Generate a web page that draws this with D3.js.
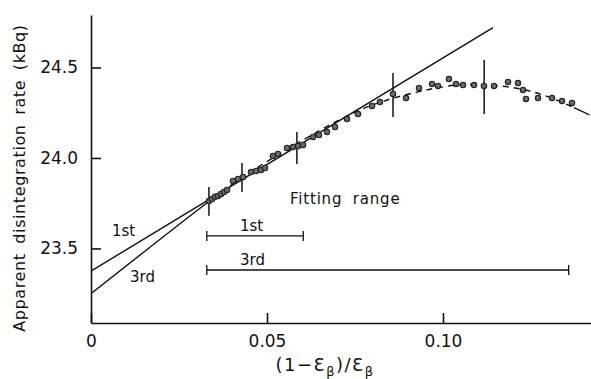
<!DOCTYPE html>
<html>
<head>
<meta charset="utf-8">
<script src="https://cdn.jsdelivr.net/npm/d3@7"></script>
<style>
  html, body { margin: 0; padding: 0; background: #fff; }
  svg { display: block; font-family: "DejaVu Sans", sans-serif; }
</style>
</head>
<body>
<svg id="chart" width="591" height="379"></svg>
<script>
// ---------- data ----------
const pointX = [0.03352, 0.03438, 0.03523, 0.03608, 0.03693, 0.03778, 0.03864,
  0.04034, 0.04176, 0.04318, 0.04545, 0.04688, 0.04830, 0.04943,
  0.05170, 0.05312, 0.05568, 0.05739, 0.05881, 0.06023,
  0.06307, 0.06477, 0.06705, 0.06932, 0.07273, 0.07585, 0.07983, 0.08210,
  0.08580, 0.08949, 0.09318, 0.09688, 0.09858, 0.10170, 0.10369, 0.10568,
  0.10881, 0.11165, 0.11449, 0.11847, 0.12131, 0.12273, 0.12358, 0.12699,
  0.13097, 0.13381, 0.13665];
const pointY = [23.762, 23.773, 23.785, 23.790, 23.801, 23.812, 23.823,
  23.873, 23.884, 23.895, 23.923, 23.928, 23.934, 23.945,
  24.011, 24.022, 24.055, 24.061, 24.066, 24.072,
  24.116, 24.127, 24.144, 24.171, 24.215, 24.243, 24.287, 24.309,
  24.354, 24.331, 24.387, 24.409, 24.398, 24.436, 24.409, 24.403,
  24.403, 24.398, 24.398, 24.420, 24.414, 24.376, 24.326, 24.331,
  24.331, 24.315, 24.304];

const errX = [0.0335, 0.0429, 0.0585, 0.0858, 0.1117];
const errY = [23.760, 23.892, 24.055, 24.348, 24.392];
const errHalf = [0.080, 0.080, 0.088, 0.122, 0.149];

// first-order fit (straight line) end points
const fit1X = [0, 0.1142];
const fit1Y = [23.375, 24.72];
// third-order fit, points
const fit3X = [0, 0.0331, 0.05, 0.07, 0.0858, 0.10, 0.11, 0.125, 0.1416];
const fit3Y = [23.25, 23.754, 23.98, 24.205, 24.33, 24.393, 24.405, 24.368, 24.238];

// fitting ranges
const rangeNames = ["1st", "3rd"];
const rangeStart = [0.0329, 0.0329];
const rangeEnd = [0.0603, 0.1357];
const rangeLevel = [23.569, 23.381];

const xTicks = [0, 0.05, 0.10];
const xTickLabels = ["0", "0.05", "0.10"];
const yTicks = [23.5, 24.0, 24.5];
const yTickLabels = ["23.5", "24.0", "24.5"];

// ---------- drawing ----------
const svg = d3.select("#chart");
const x = d3.scaleLinear().domain([0, 0.14205]).range([91, 591]);
const y = d3.scaleLinear().domain([23.088, 24.79]).range([323, 15]);

const ink = "#111";

// axes
const yAxis = d3.axisLeft(y).tickValues(yTicks)
  .tickFormat((d, i) => yTickLabels[i]).tickSize(-10).tickSizeOuter(0).tickPadding(13);
const xAxis = d3.axisBottom(x).tickValues(xTicks)
  .tickFormat((d, i) => xTickLabels[i]).tickSize(-10).tickSizeOuter(0).tickPadding(12);

const gy = svg.append("g").attr("transform", `translate(${x(0)},0)`).call(yAxis);
const gx = svg.append("g").attr("transform", `translate(0,${y(23.088)})`).call(xAxis);
[gx, gy].forEach(g => {
  g.select(".domain").attr("stroke", ink).attr("stroke-width", 1.6);
  g.selectAll(".tick line").attr("stroke", ink).attr("stroke-width", 1.6);
  g.selectAll(".tick text").attr("fill", ink).style("font-size", "17px")
    .style("font-family", "'DejaVu Sans', sans-serif");
});

// clip regions for the third-order curve (solid outside data, dashed across it)
const defs = svg.append("defs");
const dashStart = 0.0335, dashEnd = 0.1372;
const solidClip = defs.append("clipPath").attr("id", "solidClip");
solidClip.append("rect").attr("x", x(0)).attr("y", 0)
  .attr("width", x(dashStart) - x(0)).attr("height", 379);
solidClip.append("rect").attr("x", x(dashEnd)).attr("y", 0)
  .attr("width", x(0.14205) - x(dashEnd) + 5).attr("height", 379);
defs.append("clipPath").attr("id", "dashClip").append("rect")
  .attr("x", x(dashStart)).attr("y", 0)
  .attr("width", x(dashEnd) - x(dashStart)).attr("height", 379);

const line = d3.line().x(d => x(d[0])).y(d => y(d[1]));
const curve3 = d3.line().x(d => x(d[0])).y(d => y(d[1])).curve(d3.curveNatural);
const fit3 = fit3X.map((v, i) => [v, fit3Y[i]]);

svg.append("path").datum(fit3).attr("d", curve3)
  .attr("fill", "none").attr("stroke", ink).attr("stroke-width", 1.4)
  .attr("clip-path", "url(#solidClip)");
svg.append("path").datum(fit3).attr("d", curve3)
  .attr("fill", "none").attr("stroke", ink).attr("stroke-width", 1.4)
  .attr("stroke-dasharray", "6,5")
  .attr("clip-path", "url(#dashClip)");

svg.append("path").datum(fit1X.map((v, i) => [v, fit1Y[i]])).attr("d", line)
  .attr("fill", "none").attr("stroke", ink).attr("stroke-width", 1.4);

// error bars
svg.append("g").selectAll("line").data(errX).join("line")
  .attr("x1", d => x(d)).attr("x2", d => x(d))
  .attr("y1", (d, i) => y(errY[i] + errHalf[i]))
  .attr("y2", (d, i) => y(errY[i] - errHalf[i]))
  .attr("stroke", ink).attr("stroke-width", 1.5);

// data points
svg.append("g").selectAll("circle").data(pointX).join("circle")
  .attr("cx", d => x(d)).attr("cy", (d, i) => y(pointY[i]))
  .attr("r", 2.7).attr("fill", "#6a6a6a").attr("stroke", "#222").attr("stroke-width", 1.1);

// fitting range bars
const rg = svg.append("g");
rangeNames.forEach((name, i) => {
  const yy = y(rangeLevel[i]);
  rg.append("line").attr("x1", x(rangeStart[i])).attr("x2", x(rangeEnd[i]))
    .attr("y1", yy).attr("y2", yy).attr("stroke", ink).attr("stroke-width", 1.3);
  [rangeStart[i], rangeEnd[i]].forEach(v => {
    rg.append("line").attr("x1", x(v)).attr("x2", x(v))
      .attr("y1", yy - 5).attr("y2", yy + 5).attr("stroke", ink).attr("stroke-width", 1.3);
  });
  rg.append("text").attr("x", x(0.04233)).attr("y", yy - 5)
    .attr("fill", ink).style("font-size", "15px").text(name);
});

svg.append("text").attr("x", x(0.05653)).attr("y", y(23.746))
  .attr("fill", ink).style("font-size", "15px").style("letter-spacing", "0.8px")
  .style("word-spacing", "5px").text("Fitting range");

// curve labels near the y axis
svg.append("text").attr("x", x(0.00597)).attr("y", y(23.569))
  .attr("fill", ink).style("font-size", "15px").text("1st");
svg.append("text").attr("x", x(0.01108)).attr("y", y(23.315))
  .attr("fill", ink).style("font-size", "15px").text("3rd");

// axis titles
svg.append("text").attr("transform", "translate(25,178) rotate(-90)")
  .attr("text-anchor", "middle").attr("fill", ink)
  .style("font-size", "16px").style("letter-spacing", "0.6px").style("word-spacing", "4px")
  .text("Apparent disintegration rate (kBq)");

const xt = svg.append("text").attr("x", 325).attr("y", 371)
  .attr("text-anchor", "middle").attr("fill", ink)
  .style("font-size", "18px").style("letter-spacing", "1.5px");
xt.append("tspan").text("(1\u2212\u0190");
xt.append("tspan").attr("dy", 5).style("font-size", "13px").text("\u03b2");
xt.append("tspan").attr("dy", -5).text(")/\u0190");
xt.append("tspan").attr("dy", 5).style("font-size", "13px").text("\u03b2");
</script>
</body>
</html>
